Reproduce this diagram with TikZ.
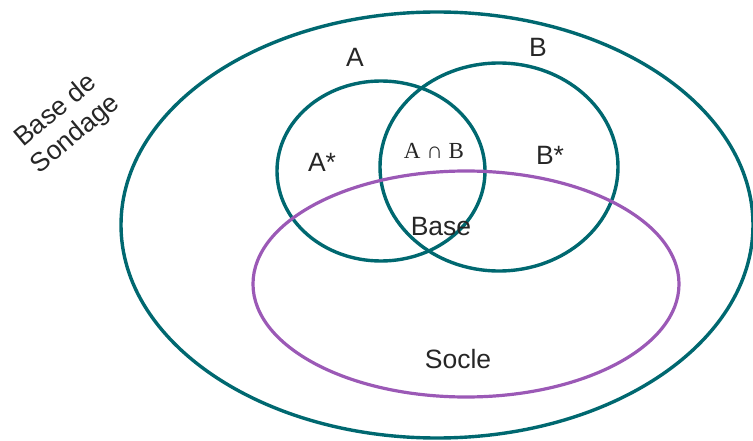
\documentclass[tikz,border=0pt]{standalone}
\usepackage{fontspec}
\setmainfont{Liberation Sans}
\newfontfamily\capfont{Liberation Serif}
\usepackage{tikz}
\usetikzlibrary{positioning}
\definecolor{setteal}{HTML}{006870}
\definecolor{soclepurple}{HTML}{9B59B6}
\tikzset{
  setline/.style={setteal,line width=3.4pt},
  sockline/.style={soclepurple,line width=3.2pt},
  lab/.style={font=\fontsize{26.5}{31}\selectfont,text=black!85,inner sep=1pt}
}

\begin{document}
\begin{tikzpicture}[x=1pt,y=-1pt]
    \useasboundingbox (0,0) rectangle (753,441);
    % sets
    \draw[setline] (437,225) ellipse (316 and 213);
    \draw[setline] (381,171) ellipse (104 and 90);
    \draw[setline] (499,167) ellipse (119 and 104);
    \draw[sockline] (466,284) ellipse (213 and 113);
    % labels
    \node[lab] (sondage) at (66,123) [rotate=40,align=center] {Base de\\Sondage};
    \node[lab] (a) at (355,57) {A};
    \node[lab] (b) at (538,47) {B};
    \node[lab] (astar) at (322,162) {A*};
    \node[lab] (bstar) at (550,155) {B*};
    \node[lab,font=\capfont\fontsize{23}{26}\selectfont] (inter) at (434,151) {A ∩ B};
    \node[lab] (base) at (441,227) {Base};
    \node[lab] (socle) at (458,359) {Socle};
  \end{tikzpicture}
\end{document}
